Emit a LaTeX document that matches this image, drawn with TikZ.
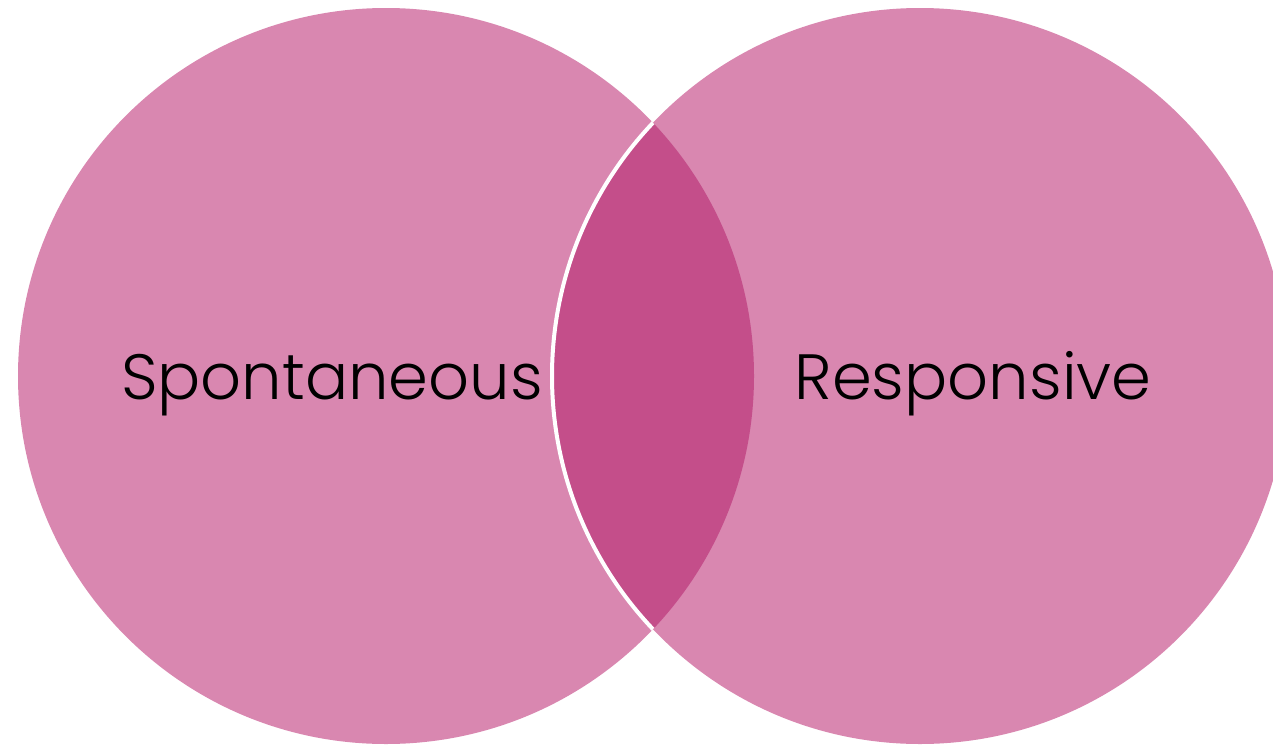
\documentclass[tikz,border=0pt]{standalone}
\usepackage{fontspec}
\setmainfont{Poppins}[UprightFont=* Light]
\definecolor{circ}{HTML}{D987B0}
\definecolor{lens}{HTML}{C44E8A}
\tikzset{
  lbl/.style={font=\fontsize{64}{76}\selectfont, text=black, inner sep=0pt, anchor=base}
}
\begin{document}
\begin{tikzpicture}[x=1pt,y=-1pt]
\useasboundingbox (0,0) rectangle (1273,744);
\begin{scope}
\clip (0,0) rectangle (1273,744);
\coordinate (cl) at (386,376);
\coordinate (cr) at (920,376);
\fill[circ] (cl) circle[radius=368];
\fill[circ] (cr) circle[radius=368];
\begin{scope}
\clip (cl) circle[radius=368];
\fill[lens] (cr) circle[radius=368];
\end{scope}
\begin{scope}
\clip (cl) circle[radius=368];
\draw[white, line width=4pt] (cr) circle[radius=368];
\end{scope}
\end{scope}
\node[lbl] (sp) at (332,399) {Spontaneous};
\node[lbl] (re) at (973,399) {Responsive};
\end{tikzpicture}
\end{document}
